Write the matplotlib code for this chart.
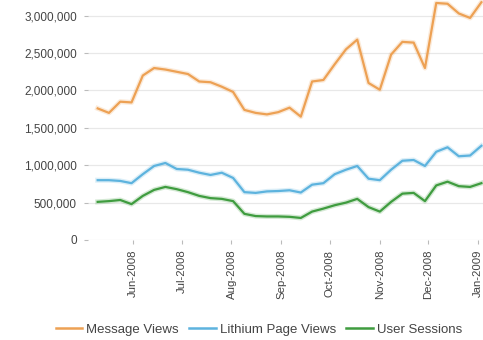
import numpy as np
import pandas as pd
import matplotlib
matplotlib.use("Agg")
import matplotlib.pyplot as plt
import matplotlib.dates as mdates
from matplotlib.ticker import FuncFormatter

plt.rcParams['font.family'] = ['Liberation Sans', 'DejaVu Sans']

# weekly samples, May 2008 - Jan 2009
weeks = pd.date_range("2008-05-10", periods=35, freq="7D")

message_views = [1760000, 1700000, 1850000, 1840000, 2200000, 2300000, 2280000,
                 2250000, 2220000, 2120000, 2110000, 2050000, 1980000, 1740000,
                 1700000, 1680000, 1710000, 1770000, 1650000, 2120000, 2140000,
                 2350000, 2550000, 2680000, 2100000, 2010000, 2480000, 2650000,
                 2640000, 2300000, 3170000, 3160000, 3030000, 2970000, 3180000]

lithium_page_views = [800000, 800000, 790000, 760000, 880000, 990000, 1030000,
                      950000, 940000, 900000, 870000, 900000, 830000, 640000,
                      630000, 650000, 655000, 665000, 635000, 740000, 760000,
                      880000, 940000, 990000, 820000, 800000, 940000, 1060000,
                      1070000, 990000, 1180000, 1240000, 1120000, 1130000, 1260000]

user_sessions = [510000, 520000, 535000, 480000, 590000, 670000, 710000,
                 680000, 640000, 590000, 560000, 550000, 520000, 350000,
                 320000, 315000, 315000, 310000, 295000, 380000, 420000,
                 465000, 500000, 550000, 440000, 380000, 510000, 620000,
                 630000, 520000, 730000, 780000, 720000, 710000, 760000]

series_names = ["Message Views", "Lithium Page Views", "User Sessions"]
colors = ["#EDA154", "#5DB3DE", "#3F9C3F"]
yticks = [0, 500000, 1000000, 1500000, 2000000, 2500000, 3000000]

fig = plt.figure(figsize=(4.83, 3.40), dpi=100)
ax = fig.add_axes([88/483, 100/340, 395/483, 240/340])

for vals, name, c in zip([message_views, lithium_page_views, user_sessions], series_names, colors):
    # soft halo like the original rendering
    ax.plot(weeks, vals, color=c, lw=3.6, alpha=0.22, solid_joinstyle='round')
    ax.plot(weeks, vals, color=c, lw=1.6, label=name, solid_joinstyle='round')

ax.set_ylim(0, 3210000)
ax.set_xlim(pd.Timestamp("2008-05-04"), pd.Timestamp("2009-01-04"))
ax.set_yticks(yticks)
ax.yaxis.set_major_formatter(FuncFormatter(lambda v, p: f"{int(v):,}"))
ax.grid(axis='y', color='#E8E8E8', lw=0.9)
ax.set_axisbelow(True)

ax.xaxis.set_major_locator(mdates.MonthLocator(bymonth=[6, 7, 8, 9, 10, 11, 12, 1]))
ax.xaxis.set_major_formatter(mdates.DateFormatter("%b-%Y"))
for lab in ax.get_xticklabels():
    lab.set_rotation(90)

for s in ax.spines.values():
    s.set_visible(False)
ax.tick_params(axis='y', length=3, width=0.8, color='#BBBBBB', labelsize=8.5,
               labelcolor='#444444', pad=5)
ax.tick_params(axis='x', length=3, width=0.8, color='#BBBBBB', labelsize=8.2,
               labelcolor='#444444', pad=4)

handles = [plt.Line2D([], [], color=c, lw=1.8) for c in colors]
fig.legend(handles, series_names, loc='center', bbox_to_anchor=(0.536, 0.03),
           ncol=3, frameon=False, fontsize=9.5, handlelength=2.0, handletextpad=0.3,
           columnspacing=0.8, labelcolor='#444444')

fig.savefig("out.png", dpi=100)
